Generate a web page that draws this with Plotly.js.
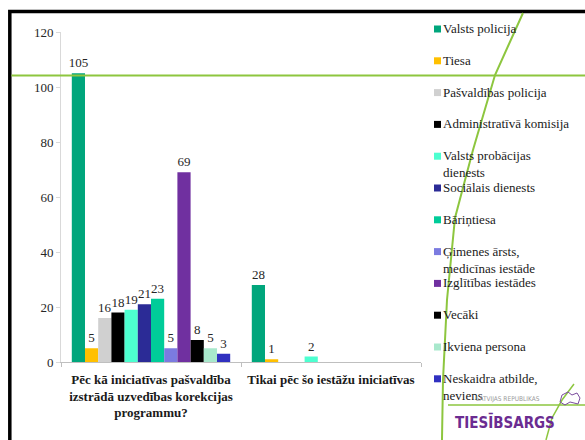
<!DOCTYPE html>
<html>
<head>
<meta charset="utf-8">
<script src="https://cdn.plot.ly/plotly-3.0.1.min.js"></script>
<style>html,body{margin:0;padding:0;background:#fff;}#chart{width:585px;height:440px;}</style>
</head>
<body>
<div id="chart"></div>
<script>
// ---- data ----
var categories = [
  "Pēc kā iniciatīvas pašvaldība<br>izstrādā uzvedības korekcijas<br>programmu?",
  "Tikai pēc šo iestāžu iniciatīvas"
];
var seriesNames = [
  "Valsts policija",
  "Tiesa",
  "Pašvaldības policija",
  "Administratīvā komisija",
  "Valsts probācijas<br>dienests",
  "Sociālais dienests",
  "Bāriņtiesa",
  "Ģimenes ārsts,<br>medicīnas iestāde",
  "Izglītības iestādes",
  "Vecāki",
  "Ikviena persona",
  "Neskaidra atbilde,<br>neviens"
];
var valsPolicija = [105, 28];
var tiesa = [5, 1];
var pasvPolicija = [16, null];
var adminKomisija = [18, null];
var probacija = [19, 2];
var socDienests = [21, null];
var barintiesa = [23, null];
var gimenesArsts = [5, null];
var izglitiba = [69, null];
var vecaki = [8, null];
var ikviena = [5, null];
var neskaidra = [3, null];
var seriesValues = [valsPolicija, tiesa, pasvPolicija, adminKomisija, probacija,
  socDienests, barintiesa, gimenesArsts, izglitiba, vecaki, ikviena, neskaidra];
var seriesColors = ["#00A67C", "#FFC000", "#D0D0D0", "#000000", "#4DFFD0", "#2B2B96",
  "#00CC99", "#7B7BE0", "#7030A0", "#000000", "#A8E8CC", "#3030C0"];

// ---- geometry helpers (pixel -> paper) ----
var W = 585, H = 440;
var ML = 61, MR = 164, MT = 32, MB = 78;
var PL = ML, PR = W - MR, PT = MT, PB = H - MB;
function fx(p) { return (p - PL) / (PR - PL); }
function fy(p) { return (PB - p) / (PB - PT); }
function r4(v) { return Math.round(v * 10000) / 10000; }
function pathOf(pts, close) {
  return pts.map(function (p, k) { return (k ? "L" : "M") + r4(fx(p[0])) + "," + r4(fy(p[1])); }).join(" ") + (close ? " Z" : "");
}

var serif = "'Liberation Serif', 'Times New Roman', serif";

var traces = seriesNames.map(function (n, i) {
  return {
    type: "bar",
    name: n,
    x: categories,
    y: seriesValues[i],
    marker: { color: seriesColors[i], line: { width: 0 } },
    texttemplate: "%{y}",
    textposition: "outside",
    textangle: 0,
    constraintext: "none",
    cliponaxis: false,
    textfont: { family: serif, size: 13, color: "#262626" },
    hoverinfo: "skip"
  };
});

var shapes = [];
var annotations = [];

// slide frame (left and top edges as one path)
shapes.push({ type: "path", xref: "paper", yref: "paper",
  path: pathOf([[9.8, 440], [9.8, 11.5], [585, 11.5]]),
  line: { color: "#000", width: 3.5 }, layer: "above" });

// manual legend
var legTop = 29, legStep = 31.8;
seriesNames.forEach(function (n, i) {
  var cy = legTop + i * legStep;
  shapes.push({ type: "rect", xref: "paper", yref: "paper",
    x0: fx(434), x1: fx(441), y0: fy(cy + 3.5), y1: fy(cy - 3.5),
    fillcolor: seriesColors[i], line: { width: 0 } });
  annotations.push({ xref: "paper", yref: "paper", x: fx(442), y: fy(cy - 9),
    xanchor: "left", yanchor: "top", align: "left", showarrow: false,
    text: n, borderpad: 0,
    font: { family: serif, size: 13, color: "#1a1a1a" } });
});

// green decorative lines
shapes.push({ type: "line", xref: "paper", yref: "paper", x0: fx(11.5), x1: fx(585), y0: fy(75.5), y1: fy(75.5),
  line: { color: "#8DC63F", width: 2 }, layer: "above" });
var curvePts = [[523, 13], [495, 75], [473, 150], [455, 218], [447, 300], [443, 380], [442, 440]];
shapes.push({ type: "path", xref: "paper", yref: "paper", path: pathOf(curvePts),
  line: { color: "#8DC63F", width: 2 }, layer: "above" });
// logo
shapes.push({ type: "line", xref: "paper", yref: "paper", x0: fx(448), x1: fx(585), y0: fy(405), y1: fy(405),
  line: { color: "#8DC63F", width: 1.5 }, layer: "above" });
var curve2 = [[574, 384], [562, 400], [552, 418], [546, 440]];
shapes.push({ type: "path", xref: "paper", yref: "paper", path: pathOf(curve2),
  line: { color: "#8DC63F", width: 1.5 }, layer: "above" });
var mapPts = [[560, 402], [562, 395], [568, 392], [572, 395], [577, 393], [580, 398], [578, 404], [570, 402], [565, 405], [560, 402]];
shapes.push({ type: "path", xref: "paper", yref: "paper", path: pathOf(mapPts, true),
  line: { color: "#7B4C9E", width: 1 }, layer: "above" });
annotations.push({ xref: "paper", yref: "paper", x: fx(508), y: fy(399), xanchor: "center", yanchor: "middle",
  showarrow: false, text: "LATVIJAS REPUBLIKAS",
  font: { family: "'DejaVu Sans Condensed', 'Liberation Sans', sans-serif", size: 6.5, color: "#9a9a9a" } });
annotations.push({ xref: "paper", yref: "paper", x: fx(505), y: fy(422), xanchor: "center", yanchor: "middle",
  showarrow: false, text: "<b>TIESĪBSARGS</b>",
  font: { family: "'DejaVu Sans Condensed', 'Liberation Sans', sans-serif", size: 15, color: "#6B2C91" } });

var layout = {
  width: W, height: H,
  margin: { l: ML, r: MR, t: MT, b: MB, pad: 0 },
  paper_bgcolor: "#fff", plot_bgcolor: "#fff",
  showlegend: false,
  barmode: "group",
  bargap: 0.12,
  bargroupgap: 0,
  xaxis: {
    type: "category",
    showline: true, linecolor: "#bfbfbf", linewidth: 1,
    ticks: "outside", tickson: "boundaries", ticklen: 4, tickcolor: "#bfbfbf",
    ticklabelstandoff: 5,
    showgrid: false, zeroline: false,
    tickfont: { family: serif, size: 13, color: "#1a1a1a", weight: "bold" }
  },
  yaxis: {
    range: [0, 120], dtick: 20,
    showline: true, linecolor: "#d9d9d9", linewidth: 1,
    ticks: "outside", ticklen: 4, tickcolor: "#d9d9d9",
    showgrid: false, zeroline: false,
    tickfont: { family: serif, size: 13, color: "#262626" }
  },
  shapes: shapes,
  annotations: annotations
};

Plotly.newPlot("chart", traces, layout, { displayModeBar: false, staticPlot: true });
</script>
</body>
</html>
